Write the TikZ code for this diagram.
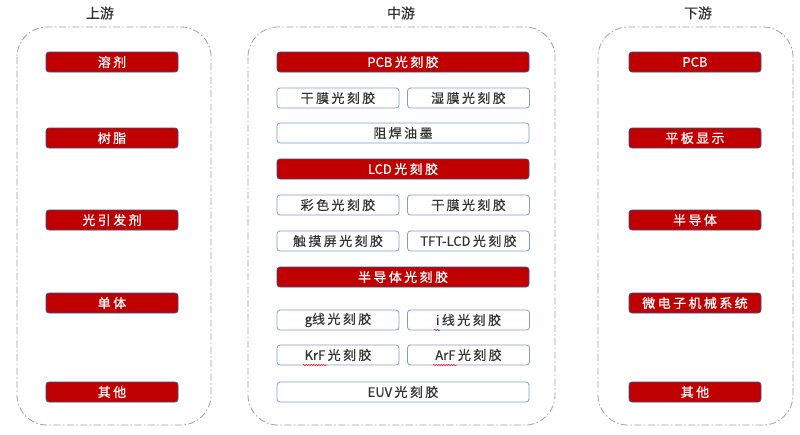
\documentclass[tikz,border=0pt]{standalone}
\usepackage{fontspec}
\usetikzlibrary{decorations.pathmorphing}
\newfontfamily\cjk{Noto Sans CJK SC}[FakeBold=0.4]
\newfontfamily\cjkred{Noto Sans CJK SC}[FakeBold=0.8]
\newcommand\ks{\hspace{2.4pt}}
\definecolor{boxred}{HTML}{C00000}
\definecolor{redline}{HTML}{3B4F8C}
\definecolor{blueline}{HTML}{7F9CCF}
\definecolor{txtgray}{HTML}{333333}
\definecolor{dashgray}{HTML}{A0A0A0}
\tikzset{
  container/.style={draw=dashgray, line width=0.8pt, rounded corners=30pt,
    dash pattern=on 7pt off 2.5pt on 1.5pt off 2.5pt},
  title/.style={font=\cjk\fontsize{14}{16}\selectfont, text=txtgray},
  redbox/.style={draw=redline, line width=0.8pt, fill=boxred, rounded corners=3pt,
    minimum height=20pt, inner sep=0pt, text=white, font=\cjkred\fontsize{13}{15}\selectfont},
  whitebox/.style={draw=blueline, line width=0.8pt, fill=white, rounded corners=3pt,
    minimum height=20pt, inner sep=0pt, text=txtgray, font=\cjk\fontsize{13}{15}\selectfont},
  side/.style={redbox, minimum width=132pt},
  full/.style={minimum width=252pt},
  half/.style={whitebox, minimum width=122pt},
  spell/.style={draw=red, line width=0.5pt, decorate, decoration={snake, amplitude=0.6pt, segment length=2.5pt}}
}
\begin{document}
\begin{tikzpicture}[x=1pt, y=-1pt]
\useasboundingbox (0,0) rectangle (800,434);
\fill[white] (0,0) rectangle (800,434);
% containers
\draw[container] (17,27) rectangle (211,425);
\draw[container] (248,27) rectangle (555,425);
\draw[container] (598,27) rectangle (793,425);
% titles
\node[title] (tup) at (100,13) {上游};
\node[title] (tmid) at (401,13) {中游};
\node[title] (tdown) at (698,13) {下游};
% upstream
\node[side] (u1) at (112,62) {溶\ks 剂};
\node[side] (u2) at (112,138) {树\ks 脂};
\node[side] (u3) at (112,220) {光\ks 引\ks 发\ks 剂};
\node[side] (u4) at (112,303) {单\ks 体};
\node[side] (u5) at (112,392) {其\ks 他};
% downstream
\node[side] (d1) at (695,62) {PCB};
\node[side] (d2) at (695,138) {平\ks 板\ks 显\ks 示};
\node[side] (d3) at (695,220) {半\ks 导\ks 体};
\node[side] (d4) at (695,303) {微\ks 电\ks 子\ks 机\ks 械\ks 系\ks 统};
\node[side] (d5) at (695,392) {其\ks 他};
% midstream
\node[redbox, full] (m1) at (403,62) {PCB\ks 光\ks 刻\ks 胶};
\node[half] (m2) at (338,98) {干\ks 膜\ks 光\ks 刻\ks 胶};
\node[half] (m3) at (468.5,98) {湿\ks 膜\ks 光\ks 刻\ks 胶};
\node[whitebox, full] (m4) at (403,133) {阻\ks 焊\ks 油\ks 墨};
\node[redbox, full] (m5) at (403,169) {LCD\ks 光\ks 刻\ks 胶};
\node[half] (m6) at (338,205) {彩\ks 色\ks 光\ks 刻\ks 胶};
\node[half] (m7) at (468.5,205) {干\ks 膜\ks 光\ks 刻\ks 胶};
\node[half] (m8) at (338,241) {触\ks 摸\ks 屏\ks 光\ks 刻\ks 胶};
\node[half] (m9) at (468.5,241) {TFT-LCD\ks 光\ks 刻\ks 胶};
\node[redbox, full] (m10) at (403,277) {半\ks 导\ks 体\ks 光\ks 刻\ks 胶};
\node[half] (m11) at (338,320) {g线\ks 光\ks 刻\ks 胶};
\node[half] (m12) at (468.5,320) {i\ks 线\ks 光\ks 刻\ks 胶};
\node[half] (m13) at (338,355) {KrF\ks 光\ks 刻\ks 胶};
\node[half] (m14) at (468.5,355) {ArF\ks 光\ks 刻\ks 胶};
\node[whitebox, full] (m15) at (403,392) {EUV\ks 光\ks 刻\ks 胶};
% spell-check underlines
\draw[spell] (434,330) -- (440,330);
\draw[spell] (303,365) -- (327,365);
\draw[spell] (433,365) -- (457,365);
\end{tikzpicture}
\end{document}
